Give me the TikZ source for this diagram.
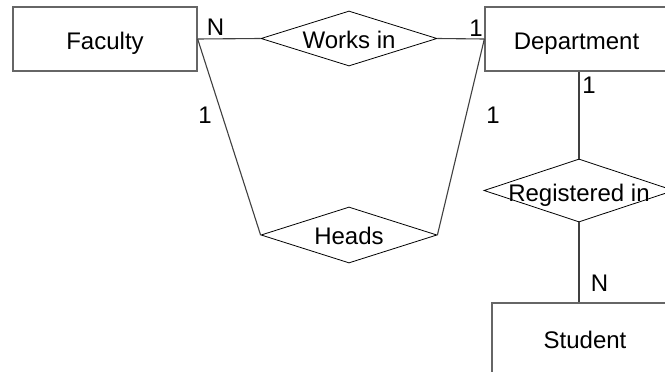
\documentclass[tikz,border=0pt]{standalone}
\usepackage{fontspec}
\setmainfont{Liberation Sans}
\usetikzlibrary{shapes.geometric}
\begin{document}
\begin{tikzpicture}[x=1pt,y=-1pt,
  every node/.style={font=\fontsize{24}{28}\selectfont},
  entity/.style={draw=black!60, line width=1.3pt, rectangle, inner sep=0pt,
    text height=20.8pt, text depth=0pt},
  relation/.style={draw=black, line width=0.8pt, diamond, inner sep=0pt, aspect=1,
    text height=19pt, text depth=0pt},
  link/.style={draw=black!75, line width=1.1pt},
  card/.style={inner sep=0pt, text height=17pt, text depth=0pt}]
\useasboundingbox (0,0) rectangle (665,372);
\clip (0,0) rectangle (665,372);
\fill[white] (0,0) rectangle (665,372);

% entities
\node[entity, minimum width=184pt, minimum height=64pt] (fac) at (105,39) {Faculty};
\node[entity, minimum width=183pt, minimum height=64pt] (dept) at (576.5,39) {Department};
\node[entity, minimum width=186pt, minimum height=70pt] (stu) at (585,338) {Student};

% relationships
\node[relation, minimum width=176pt, minimum height=55pt] (works) at (349,38.5) {\makebox[0pt]{Works in}};
\node[relation, minimum width=176pt, minimum height=56pt] (heads) at (349,235) {\makebox[0pt]{Heads}};
\node[relation, minimum width=190pt, minimum height=63pt, text height=22pt] (reg) at (579,190.5) {\makebox[0pt]{Registered in}};

% connectors
\draw[link] (fac.east) -- (works.west);
\draw[link] (works.east) -- (dept.west);
\draw[link] (fac.east) -- (heads.west);
\draw[link] (dept.west) -- (heads.east);
\draw[link] (reg.north |- dept.south) -- (reg.north);
\draw[link] (reg.south) -- (reg.south |- stu.north);

% cardinalities
\node[card] (cN1) at (215.5,26.5) {N};
\node[card] (c1a) at (476,27.5) {1};
\node[card] (c1b) at (205,115) {1};
\node[card] (c1c) at (493,114.5) {1};
\node[card] (c1d) at (589,85) {1};
\node[card] (cN2) at (599.5,283) {N};
\end{tikzpicture}
\end{document}
